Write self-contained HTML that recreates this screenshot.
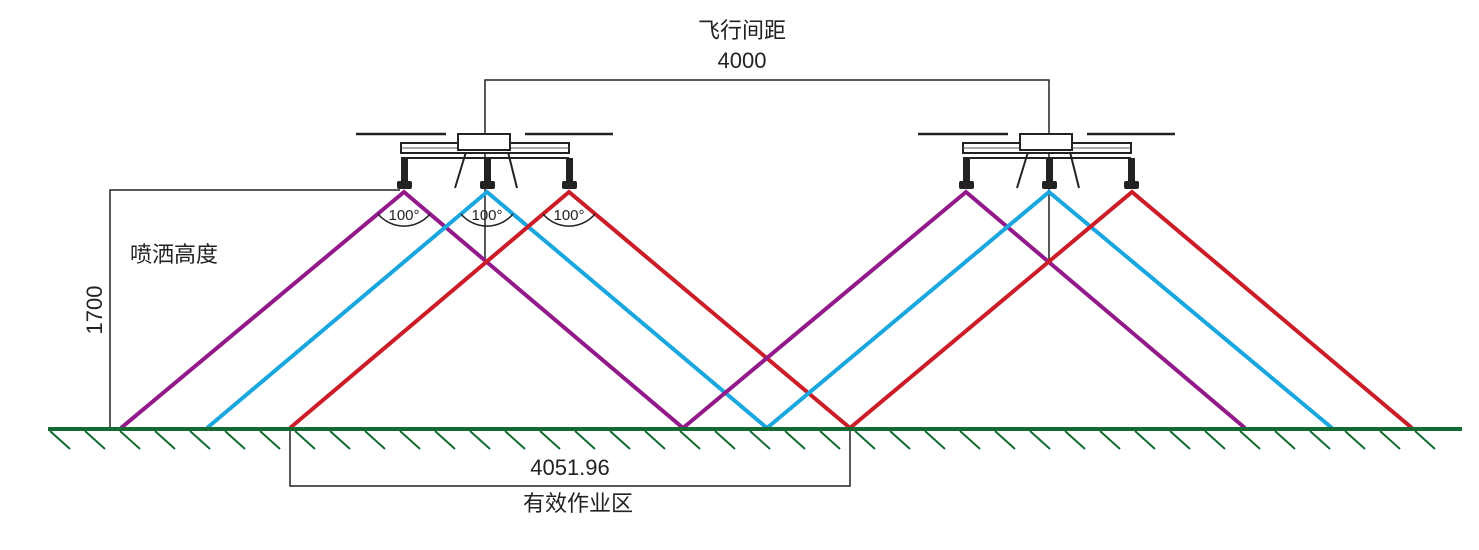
<!DOCTYPE html>
<html><head><meta charset="utf-8"><style>body{margin:0;background:#fff}</style></head><body>
<svg width="1479" height="545" viewBox="0 0 1479 545" xmlns="http://www.w3.org/2000/svg" font-family="Liberation Sans, Noto Sans CJK SC, sans-serif">
<defs>
<g id="drone">
<line x1="356" y1="134" x2="446" y2="134" stroke="#222" stroke-width="2.5"/>
<line x1="525" y1="134" x2="613" y2="134" stroke="#222" stroke-width="2.5"/>
<rect x="401" y="143" width="168" height="10" fill="#fff" stroke="#222" stroke-width="2"/>
<line x1="401" y1="148" x2="569" y2="148" stroke="#555" stroke-width="1"/>
<rect x="458" y="134" width="52" height="16" fill="#fff" stroke="#222" stroke-width="2"/>
<line x1="401" y1="158" x2="569" y2="158" stroke="#222" stroke-width="2"/>
<line x1="466" y1="152" x2="455" y2="188" stroke="#222" stroke-width="2"/>
<line x1="508" y1="152" x2="517" y2="188" stroke="#222" stroke-width="2"/>
<rect x="401" y="158" width="7" height="24" fill="#222"/>
<rect x="484" y="158" width="7" height="24" fill="#222"/>
<rect x="566" y="158" width="7" height="24" fill="#222"/>
<rect x="397" y="181" width="15" height="8" rx="2" fill="#222"/>
<rect x="480" y="181" width="15" height="8" rx="2" fill="#222"/>
<rect x="562" y="181" width="15" height="8" rx="2" fill="#222"/>
</g>
</defs>
<g stroke="#222" stroke-width="1.5" fill="none">
<polyline points="485,262 485,80 1049,80 1049,262"/>
<polyline points="400,190 110,190 110,428"/>
<polyline points="290,428 290,486 850,486 850,428"/>
</g>
<use href="#drone"/>
<use href="#drone" transform="translate(562,0)"/>
<g stroke-width="4" fill="none">
<polyline points="121,428 404,192 683,428" stroke="#93198a"/>
<polyline points="207,428 487,192 767,428" stroke="#1aa7e0"/>
<polyline points="290,428 569,192 850,428" stroke="#cc1c27"/>
<polyline points="683,428 966,192 1245,428" stroke="#93198a"/>
<polyline points="767,428 1049,192 1332,428" stroke="#1aa7e0"/>
<polyline points="850,428 1132,192 1412,428" stroke="#cc1c27"/>
</g>
<g stroke="#222" stroke-width="1.5" fill="none">
<path d="M378,214 A34,34 0 0 0 430,214"/>
<path d="M461,214 A34,34 0 0 0 513,214"/>
<path d="M543,214 A34,34 0 0 0 595,214"/>
</g>
<g font-size="15" fill="#222" text-anchor="middle">
<text x="404" y="220">100°</text><text x="487" y="220">100°</text><text x="569" y="220">100°</text>
</g>
<line x1="48" y1="429" x2="1462" y2="429" stroke="#146b32" stroke-width="4"/>
<g stroke="#146b32" stroke-width="2">
<path d="M50,431 l20,18 M85,431 l20,18 M120,431 l20,18 M155,431 l20,18 M190,431 l20,18 M225,431 l20,18 M260,431 l20,18 M295,431 l20,18 M330,431 l20,18 M365,431 l20,18 M400,431 l20,18 M435,431 l20,18 M470,431 l20,18 M505,431 l20,18 M540,431 l20,18 M575,431 l20,18 M610,431 l20,18 M645,431 l20,18 M680,431 l20,18 M715,431 l20,18 M750,431 l20,18 M785,431 l20,18 M820,431 l20,18 M855,431 l20,18 M890,431 l20,18 M925,431 l20,18 M960,431 l20,18 M995,431 l20,18 M1030,431 l20,18 M1065,431 l20,18 M1100,431 l20,18 M1135,431 l20,18 M1170,431 l20,18 M1205,431 l20,18 M1240,431 l20,18 M1275,431 l20,18 M1310,431 l20,18 M1345,431 l20,18 M1380,431 l20,18 M1415,431 l20,18"/>
</g>
<g font-size="22" fill="#222">
<text x="742" y="38" text-anchor="middle">飞行间距</text>
<text x="742" y="68" text-anchor="middle">4000</text>
<text x="130" y="262">喷洒高度</text>
<text x="102" y="310" text-anchor="middle" transform="rotate(-90 102 310)">1700</text>
<text x="570" y="475" text-anchor="middle">4051.96</text>
<text x="578" y="511" text-anchor="middle">有效作业区</text>
</g>
</svg>
</body></html>
